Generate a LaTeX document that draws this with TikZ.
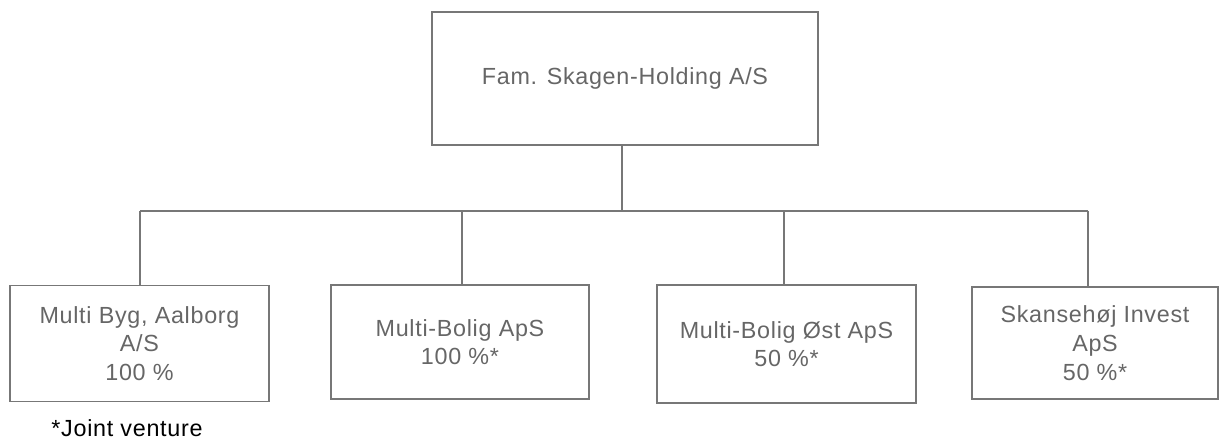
\documentclass[tikz,border=0pt]{standalone}
\usepackage{fontspec}
\setmainfont{Liberation Sans}[LetterSpace=3]
\usepackage{tikz}
\usetikzlibrary{positioning}
\definecolor{boxgray}{HTML}{777777}
\definecolor{textgray}{HTML}{666666}

\begin{document}
\begin{tikzpicture}[x=0.75pt, y=-0.75pt, every node/.style={font=\fontsize{17.5}{21.5}\selectfont},
	company/.style={draw=boxgray, line width=0.9pt, rectangle, text=textgray, align=center, inner sep=0pt},
	link/.style={draw=boxgray, line width=0.9pt},]
\useasboundingbox (0,0) rectangle (1220,441);
\node[company, minimum width=386*0.75pt, minimum height=133*0.75pt] (holding) at (625,78.5) {Fam. Skagen-Holding A/S};
\node[company, minimum width=259*0.75pt, minimum height=116*0.75pt] (byg) at (139.5,343.5) {Multi Byg, Aalborg\\A/S\\100 \%};
\node[company, minimum width=258*0.75pt, minimum height=114*0.75pt] (bolig) at (460,342) {Multi-Bolig ApS\\100 \%*};
\node[company, minimum width=259*0.75pt, minimum height=118*0.75pt] (oest) at (786.5,344) {Multi-Bolig Øst ApS\\50 \%*};
\node[company, minimum width=246*0.75pt, minimum height=112*0.75pt] (skanse) at (1095,343) {Skansehøj Invest\\ApS\\50 \%*};
\node (note) at (127,428) {*Joint venture};
\coordinate (bar) at (622,211);
\coordinate (d1) at (140,211);
\coordinate (d2) at (462,211);
\coordinate (d3) at (784,211);
\coordinate (d4) at (1088,211);
\draw[link] (holding.south -| bar) -- (bar);
\draw[link] (d1) -- (d4);
\draw[link] (d1) -- (d1 |- byg.north);
\draw[link] (d2) -- (d2 |- bolig.north);
\draw[link] (d3) -- (d3 |- oest.north);
\draw[link] (d4) -- (d4 |- skanse.north);
\end{tikzpicture}
\end{document}
